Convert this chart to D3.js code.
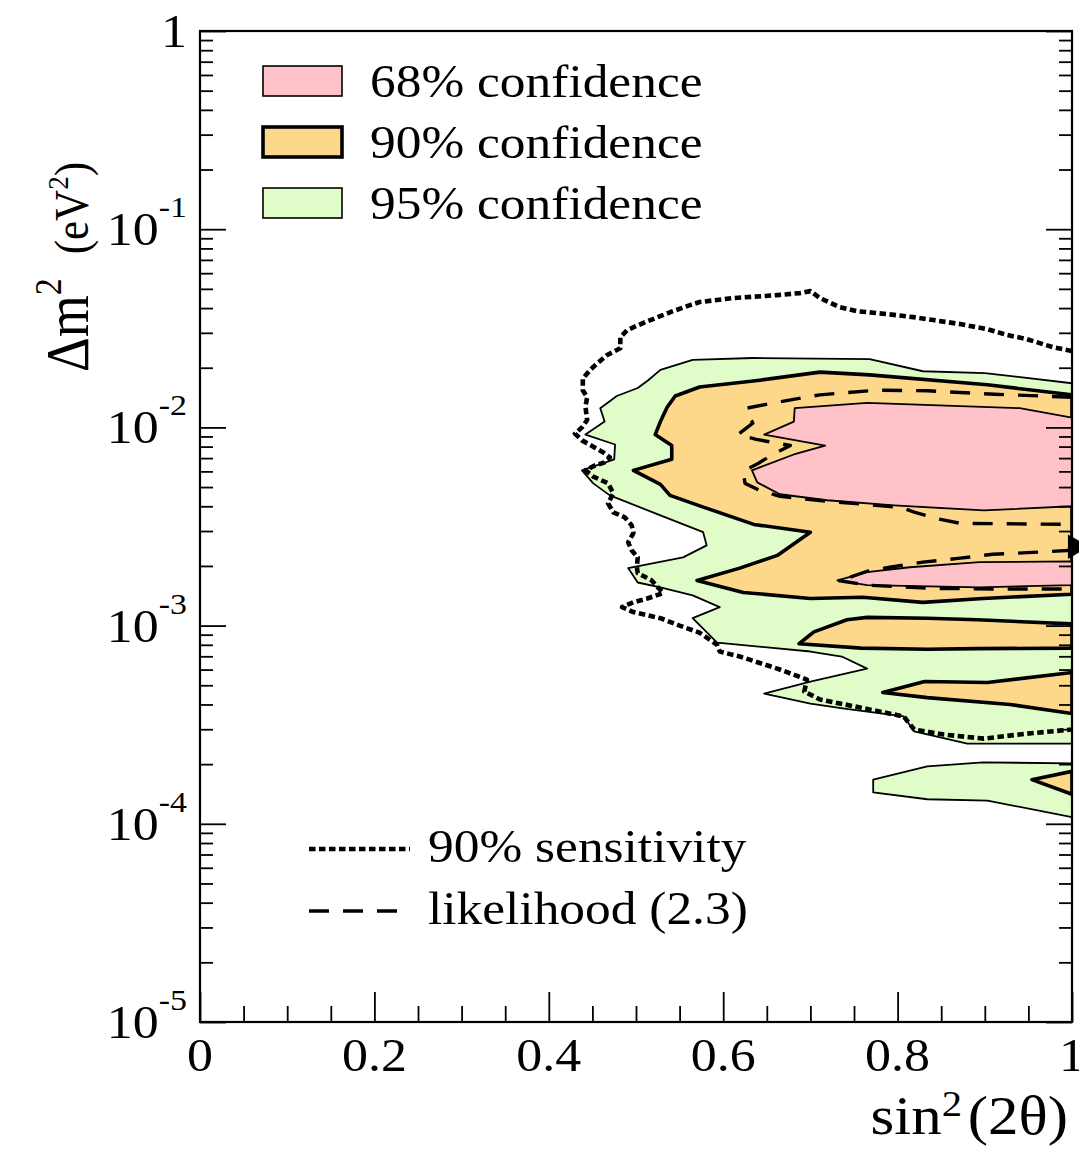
<!DOCTYPE html>
<html>
<head>
<meta charset="utf-8">
<script src="https://cdn.jsdelivr.net/npm/d3@7"></script>
<style>
  body { margin: 0; background: #fff; }
  text { font-family: "Liberation Serif", "Times New Roman", serif; fill: #000; }
</style>
</head>
<body>
<svg id="chart" width="1079" height="1151"></svg>
<script>
// ---- axis labels -------------------------------------------------------
const xTickValues = [0, 0.2, 0.4, 0.6, 0.8, 1];
const xTickLabels = ["0", "0.2", "0.4", "0.6", "0.8", "1"];
const yDecades = [1e-5, 1e-4, 1e-3, 1e-2, 1e-1, 1];
const yExponents = ["-5", "-4", "-3", "-2", "-1", ""];
const confidenceLabels = ["68% confidence", "90% confidence", "95% confidence"];
const lineLabels = ["90% sensitivity", "likelihood (2.3)"];

// ---- allowed regions: [sin^2(2θ), Δm^2 in eV^2] -------------------------
const region95Main = [[1.0,1.67e-2],[0.900,1.88e-2],[0.829,1.92e-2],[0.768,2.21e-2],[0.634,2.24e-2],[0.565,2.19e-2],[0.528,1.95e-2],[0.514,1.73e-2],[0.502,1.58e-2],[0.478,1.44e-2],[0.459,1.25e-2],[0.464,1.07e-2],[0.442,9.2e-3],[0.476,8.2e-3],[0.475,6.9e-3],[0.438,6.07e-3],[0.451,5.22e-3],[0.470,4.54e-3],[0.528,3.6e-3],[0.577,2.96e-3],[0.581,2.54e-3],[0.554,2.21e-3],[0.491,1.95e-3],[0.502,1.65e-3],[0.528,1.56e-3],[0.565,1.42e-3],[0.596,1.24e-3],[0.565,1.09e-3],[0.593,8.2e-4],[0.700,7.4e-4],[0.736,6.98e-4],[0.765,6.07e-4],[0.700,5.22e-4],[0.647,4.54e-4],[0.700,4.04e-4],[0.739,3.81e-4],[0.807,3.48e-4],[0.819,2.93e-4],[0.880,2.54e-4],[1.0,2.54e-4]];
const region95Low = [[0.772,1.67e-4],[0.834,1.95e-4],[0.898,2.04e-4],[1.0,2.02e-4],[1.0,1.08e-4],[0.903,1.31e-4],[0.834,1.33e-4],[0.772,1.44e-4]];

const region90Main = [[1.0,1.46e-2],[0.903,1.64e-2],[0.768,1.84e-2],[0.711,1.90e-2],[0.642,1.73e-2],[0.573,1.60e-2],[0.545,1.44e-2],[0.536,1.27e-2],[0.528,1.07e-2],[0.522,9.2e-3],[0.541,8.1e-3],[0.541,6.9e-3],[0.497,6.07e-3],[0.528,5.16e-3],[0.539,4.54e-3],[0.578,3.95e-3],[0.635,3.24e-3],[0.700,2.96e-3],[0.662,2.26e-3],[0.619,1.95e-3],[0.570,1.69e-3],[0.623,1.47e-3],[0.700,1.37e-3],[0.760,1.39e-3],[0.829,1.31e-3],[0.898,1.37e-3],[1.0,1.44e-3]];
const region90Band1 = [[1.0,1.02e-3],[0.891,1.07e-3],[0.834,1.09e-3],[0.765,1.10e-3],[0.742,1.07e-3],[0.704,9.3e-4],[0.687,8.1e-4],[0.758,7.7e-4],[0.834,7.6e-4],[0.891,7.65e-4],[1.0,7.7e-4]];
const region90Band2 = [[1.0,5.8e-4],[0.903,5.16e-4],[0.831,5.22e-4],[0.783,4.6e-4],[0.834,4.33e-4],[0.929,4.0e-4],[1.0,3.6e-4]];
const region90Tip = [[1.0,1.84e-4],[0.954,1.67e-4],[1.0,1.41e-4]];

const region68Upper = [[1.0,1.12e-2],[0.940,1.25e-2],[0.765,1.33e-2],[0.682,1.25e-2],[0.681,1.07e-2],[0.647,9.2e-3],[0.717,8.1e-3],[0.681,7.3e-3],[0.633,6.07e-3],[0.639,5.28e-3],[0.665,4.6e-3],[0.719,4.29e-3],[0.796,4.04e-3],[0.899,3.81e-3],[1.0,4.0e-3]];
const region68Lower = [[1.0,2.11e-3],[0.894,2.09e-3],[0.814,1.97e-3],[0.765,1.86e-3],[0.731,1.69e-3],[0.765,1.60e-3],[0.894,1.56e-3],[1.0,1.60e-3]];

// ---- contour lines ------------------------------------------------------
const likelihoodUpper = [[1.0,1.42e-2],[0.911,1.47e-2],[0.834,1.53e-2],[0.776,1.54e-2],[0.711,1.46e-2],[0.662,1.34e-2],[0.627,1.25e-2],[0.628,1.18e-2],[0.634,1.05e-2],[0.617,9.2e-3],[0.638,8.7e-3],[0.677,8.1e-3],[0.657,7.3e-3],[0.640,6.58e-3],[0.623,6.0e-3],[0.625,5.22e-3],[0.642,4.81e-3],[0.665,4.49e-3],[0.719,4.24e-3],[0.803,3.95e-3],[0.820,3.73e-3],[0.843,3.48e-3],[0.872,3.28e-3],[1.0,3.24e-3]];
const likelihoodLower = [[1.0,2.40e-3],[0.955,2.34e-3],[0.909,2.29e-3],[0.872,2.19e-3],[0.829,2.09e-3],[0.791,1.97e-3],[0.765,1.88e-3],[0.745,1.75e-3],[0.731,1.69e-3],[0.765,1.60e-3],[0.841,1.54e-3],[0.917,1.53e-3],[0.992,1.53e-3]];

const sensitivity90 = [[1.0,2.43e-2],[0.978,2.54e-2],[0.948,2.79e-2],[0.925,2.93e-2],[0.903,3.13e-2],[0.872,3.32e-2],[0.841,3.48e-2],[0.818,3.6e-2],[0.788,3.73e-2],[0.753,3.86e-2],[0.734,4.04e-2],[0.711,4.49e-2],[0.700,4.87e-2],[0.688,4.76e-2],[0.662,4.65e-2],[0.611,4.49e-2],[0.573,4.29e-2],[0.562,4.14e-2],[0.539,3.81e-2],[0.508,3.36e-2],[0.490,3.10e-2],[0.482,2.85e-2],[0.482,2.51e-2],[0.467,2.32e-2],[0.451,2.02e-2],[0.439,1.77e-2],[0.439,1.54e-2],[0.444,1.42e-2],[0.442,1.27e-2],[0.444,1.09e-2],[0.438,1.0e-2],[0.430,9.3e-3],[0.438,8.6e-3],[0.453,7.9e-3],[0.464,7.4e-3],[0.470,7.06e-3],[0.464,6.66e-3],[0.453,6.43e-3],[0.442,6.07e-3],[0.451,5.65e-3],[0.468,5.22e-3],[0.474,4.65e-3],[0.468,4.14e-3],[0.474,3.73e-3],[0.487,3.52e-3],[0.495,3.21e-3],[0.497,2.93e-3],[0.491,2.63e-3],[0.495,2.40e-3],[0.502,2.21e-3],[0.501,1.97e-3],[0.502,1.84e-3],[0.518,1.69e-3],[0.531,1.46e-3],[0.513,1.37e-3],[0.497,1.31e-3],[0.484,1.24e-3],[0.497,1.17e-3],[0.528,1.09e-3],[0.550,1.0e-3],[0.573,9.2e-4],[0.593,8.0e-4],[0.596,7.4e-4],[0.619,6.98e-4],[0.662,6.07e-4],[0.696,5.34e-4],[0.693,4.65e-4],[0.711,4.24e-4],[0.757,3.86e-4],[0.807,3.48e-4],[0.819,2.99e-4],[0.853,2.82e-4],[0.899,2.69e-4],[0.948,2.85e-4],[1.0,2.99e-4]];

const bestFit = [1.0, 2.5e-3];

// ---- styles ---------------------------------------------------------------
const fill68 = "#ffc2c9", fill90 = "#fed88a", fill95 = "#e0fcc8";
const textStretch = 1.13;

// ---- layout ---------------------------------------------------------------
const W = 1079, H = 1151;
const plot = { left: 200, right: 1072, top: 31, bottom: 1022 };
const svg = d3.select("#chart");
svg.append("rect").attr("width", W).attr("height", H).attr("fill", "#fff");

const x = d3.scaleLinear().domain([0, 1]).range([plot.left, plot.right]);
const y = d3.scaleLog().domain([1e-5, 1]).range([plot.bottom, plot.top]);

svg.append("clipPath").attr("id", "plotClip")
  .append("rect").attr("x", plot.left).attr("y", plot.top)
  .attr("width", plot.right - plot.left).attr("height", plot.bottom - plot.top);

const area = svg.append("g").attr("clip-path", "url(#plotClip)");
const closed = d3.line().x(d => x(d[0])).y(d => y(d[1])).curve(d3.curveLinearClosed);
const open = d3.line().x(d => x(d[0])).y(d => y(d[1]));

function region(pts, fill, width) {
  area.append("path").attr("d", closed(pts))
    .attr("fill", fill).attr("stroke", "#000")
    .attr("stroke-width", width).attr("stroke-linejoin", "round");
}
region(region95Main, fill95, 1.8);
region(region95Low, fill95, 1.8);
[region90Main, region90Band1, region90Band2, region90Tip].forEach(r => region(r, fill90, 3.6));
region(region68Upper, fill68, 1.8);
region(region68Lower, fill68, 1.8);

function contour(pts, dash, width) {
  area.append("path").attr("d", open(pts)).attr("fill", "none")
    .attr("stroke", "#000").attr("stroke-width", width)
    .attr("stroke-dasharray", dash).attr("stroke-linejoin", "round");
}
const likelihoodDash = "20,14", sensitivityDash = "6.5,3.5";
contour(likelihoodUpper, likelihoodDash, 3.4);
contour(likelihoodLower, likelihoodDash, 3.4);
contour(sensitivity90, sensitivityDash, 4.6);

// ---- axes (ticks point into the frame) -------------------------------------
const xMinor = d3.range(0, 1.0001, 0.05).filter(v => Math.abs(v * 5 - Math.round(v * 5)) > 1e-6);
const axes = svg.append("g");
function strip(g) { g.select(".domain").remove(); g.selectAll(".tick line").attr("stroke-width", 1.8); }

axes.append("g").attr("transform", `translate(0,${plot.bottom})`)
  .call(d3.axisBottom(x).tickValues(xMinor).tickSize(-16).tickFormat("")).call(strip);
axes.append("g").attr("transform", `translate(0,${plot.bottom})`)
  .call(d3.axisBottom(x).tickValues(xTickValues).tickSize(-30).tickFormat("")).call(strip);

const yAll = y.ticks();
const yMinor = yAll.filter(v => !yDecades.some(d => Math.abs(v / d - 1) < 1e-9));
axes.append("g").attr("transform", `translate(${plot.left},0)`)
  .call(d3.axisLeft(y).tickValues(yMinor).tickSize(-13).tickFormat("")).call(strip);
axes.append("g").attr("transform", `translate(${plot.left},0)`)
  .call(d3.axisLeft(y).tickValues(yDecades).tickSize(-26).tickFormat("")).call(strip);
axes.append("g").attr("transform", `translate(${plot.right},0)`)
  .call(d3.axisRight(y).tickValues(yMinor).tickSize(-13).tickFormat("")).call(strip);
axes.append("g").attr("transform", `translate(${plot.right},0)`)
  .call(d3.axisRight(y).tickValues(yDecades).tickSize(-26).tickFormat("")).call(strip);

svg.append("rect").attr("x", plot.left).attr("y", plot.top)
  .attr("width", plot.right - plot.left).attr("height", plot.bottom - plot.top)
  .attr("fill", "none").attr("stroke", "#000").attr("stroke-width", 2.2);

// best-fit marker sits on the right edge of the frame
svg.append("path")
  .attr("d", d3.symbol().type(d3.symbolTriangle).size(260)())
  .attr("transform", `translate(${x(bestFit[0]) + 3},${y(bestFit[1])}) rotate(90)`)
  .attr("fill", "#000");

// ---- text -----------------------------------------------------------------
function stretched(px, py, anchor) {
  return svg.append("text")
    .attr("transform", `translate(${px},${py}) scale(${textStretch},1)`)
    .attr("text-anchor", anchor);
}

xTickValues.forEach((v, i) => {
  stretched(x(v), plot.bottom + 49, "middle").attr("font-size", 46).text(xTickLabels[i]);
});

yDecades.forEach((v, i) => {
  const t = stretched(187, y(v) + 16, "end");
  if (yExponents[i] === "") {
    t.attr("font-size", 46).text("1");
  } else {
    t.append("tspan").attr("font-size", 46).text("10");
    t.append("tspan").attr("font-size", 30).attr("dy", -28).text(yExponents[i]);
  }
});

const xt = stretched(1068, 1134, "end");
xt.append("tspan").attr("font-size", 54).text("sin");
xt.append("tspan").attr("font-size", 36).attr("dy", -18).text("2");
xt.append("tspan").attr("font-size", 54).attr("dy", 18).attr("dx", 5).text("(2θ)");

const yt = svg.append("text")
  .attr("transform", `translate(88,372) rotate(-90) scale(1,${textStretch})`);
yt.append("tspan").attr("font-size", 54).text("Δm");
yt.append("tspan").attr("font-size", 34).attr("dy", -24).text("2");
yt.append("tspan").attr("font-size", 43).attr("dy", 24).attr("dx", 24).text("(eV");
yt.append("tspan").attr("font-size", 27).attr("dy", -18).text("2");
yt.append("tspan").attr("font-size", 43).attr("dy", 18).text(")");

// ---- legends ----------------------------------------------------------------
const boxFills = [fill68, fill90, fill95];
const boxStroke = [1.6, 3.6, 1.6];
const boxTops = [66, 127, 188];
confidenceLabels.forEach((lab, i) => {
  svg.append("rect").attr("x", 263).attr("y", boxTops[i]).attr("width", 79).attr("height", 30)
    .attr("fill", boxFills[i]).attr("stroke", "#000").attr("stroke-width", boxStroke[i]);
  stretched(370, boxTops[i] + 31, "start").attr("font-size", 45.5).text(lab);
});

const lineY = [849, 911];
const lineDash = [sensitivityDash, likelihoodDash];
const lineWidth = [4.6, 3.4];
const lineEnd = [410, 399];
lineLabels.forEach((lab, i) => {
  svg.append("line").attr("x1", 309).attr("x2", lineEnd[i]).attr("y1", lineY[i]).attr("y2", lineY[i])
    .attr("stroke", "#000").attr("stroke-width", lineWidth[i]).attr("stroke-dasharray", lineDash[i]);
  stretched(428, lineY[i] + 13, "start").attr("font-size", 45.5).text(lab);
});
</script>
</body>
</html>
